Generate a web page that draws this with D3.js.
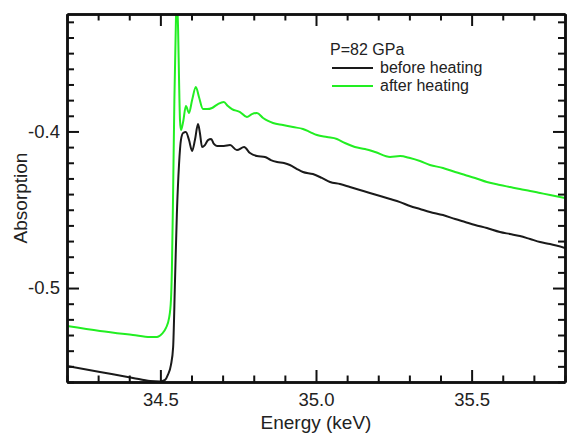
<!DOCTYPE html>
<html>
<head>
<meta charset="utf-8">
<script src="https://cdn.jsdelivr.net/npm/d3@7"></script>
<style>
  body { margin: 0; background: #fff; }
  svg { display: block; }
  text { font-family: "Liberation Sans", Arial, sans-serif; fill: #222; }
</style>
</head>
<body>
<svg id="chart"></svg>
<script>
// energy (keV) and absorption
var beforeE = [34.200, 34.306, 34.412, 34.467, 34.499, 34.515, 34.524, 34.534, 34.541, 34.547,
  34.553, 34.560, 34.566, 34.573, 34.582, 34.592, 34.602, 34.611, 34.621, 34.627,
  34.634, 34.643, 34.653, 34.663, 34.672, 34.682, 34.704, 34.724, 34.746, 34.769,
  34.788, 34.810, 34.836, 34.855, 34.875, 34.897, 34.916, 34.939, 34.958, 34.990,
  35.019, 35.045, 35.077, 35.109, 35.141, 35.173, 35.206, 35.238, 35.270, 35.302,
  35.334, 35.366, 35.408, 35.447, 35.479, 35.511, 35.549, 35.591, 35.623, 35.655,
  35.688, 35.720, 35.752, 35.800];
var beforeA = [-0.5498, -0.5536, -0.5574, -0.5594, -0.5597, -0.5587, -0.5555, -0.5491, -0.5377, -0.4955,
  -0.4527, -0.4208, -0.4055, -0.4010, -0.4004, -0.4055, -0.4125, -0.4055, -0.3953, -0.4010,
  -0.4100, -0.4087, -0.4055, -0.4048, -0.4080, -0.4093, -0.4093, -0.4087, -0.4119, -0.4100,
  -0.4138, -0.4157, -0.4163, -0.4183, -0.4195, -0.4202, -0.4214, -0.4240, -0.4259, -0.4272,
  -0.4297, -0.4323, -0.4336, -0.4355, -0.4374, -0.4393, -0.4412, -0.4431, -0.4451, -0.4476,
  -0.4495, -0.4514, -0.4534, -0.4559, -0.4578, -0.4597, -0.4617, -0.4642, -0.4655, -0.4668,
  -0.4687, -0.4706, -0.4719, -0.4744];

var afterE = [34.200, 34.306, 34.412, 34.467, 34.489, 34.505, 34.518, 34.528, 34.534, 34.537,
  34.541, 34.545, 34.550, 34.553, 34.557, 34.560, 34.563, 34.566, 34.573, 34.582,
  34.592, 34.602, 34.614, 34.624, 34.637, 34.650, 34.666, 34.685, 34.704, 34.717,
  34.730, 34.756, 34.778, 34.794, 34.810, 34.830, 34.846, 34.862, 34.894, 34.926,
  34.958, 34.981, 35.003, 35.035, 35.067, 35.093, 35.125, 35.157, 35.190, 35.238,
  35.270, 35.302, 35.334, 35.366, 35.408, 35.447, 35.479, 35.511, 35.549, 35.591,
  35.623, 35.655, 35.688, 35.720, 35.752, 35.800];
var afterA = [-0.5242, -0.5274, -0.5300, -0.5313, -0.5313, -0.5293, -0.5255, -0.5191, -0.5076, -0.4885,
  -0.4374, -0.3799, -0.3288, -0.3148, -0.3352, -0.3671, -0.3927, -0.3991, -0.3940, -0.3838,
  -0.3882, -0.3799, -0.3716, -0.3780, -0.3857, -0.3857, -0.3850, -0.3825, -0.3812, -0.3838,
  -0.3857, -0.3876, -0.3908, -0.3889, -0.3882, -0.3914, -0.3933, -0.3946, -0.3959, -0.3972,
  -0.3984, -0.4004, -0.4023, -0.4036, -0.4048, -0.4074, -0.4099, -0.4112, -0.4131, -0.4163,
  -0.4157, -0.4170, -0.4189, -0.4214, -0.4233, -0.4259, -0.4278, -0.4297, -0.4323, -0.4342,
  -0.4355, -0.4368, -0.4380, -0.4393, -0.4406, -0.4425];

var xMajor = [34.5, 35.0, 35.5];
var xMajorLabels = ["34.5", "35.0", "35.5"];
var yMajor = [-0.5, -0.4];
var yMajorLabels = ["-0.5", "-0.4"];

var width = 567, height = 436;
var margin = {top: 14, right: 2, bottom: 54, left: 67};
var iw = width - margin.left - margin.right,
    ih = height - margin.top - margin.bottom;

var svg = d3.select("#chart").attr("width", width).attr("height", height);
var g = svg.append("g").attr("transform", "translate(" + margin.left + "," + margin.top + ")");

var x = d3.scaleLinear().domain([34.2, 35.8]).range([0, iw]);
var y = d3.scaleLinear().domain([-0.56, -0.325]).range([ih, 0]);

var xMinor = d3.range(34.2, 35.81, 0.1).filter(function(d) {
  return xMajor.every(function(m) { return Math.abs(m - d) > 1e-6; });
});
var yMinor = d3.range(-0.56, -0.3249, 0.01).filter(function(d) {
  return yMajor.every(function(m) { return Math.abs(m - d) > 1e-6; });
});

svg.append("defs").append("clipPath").attr("id", "clip")
  .append("rect").attr("width", iw).attr("height", ih);

var line = d3.line()
  .x(function(d) { return x(d[0]); })
  .y(function(d) { return y(d[1]); })
  .curve(d3.curveMonotoneX);

var plot = g.append("g").attr("clip-path", "url(#clip)");
plot.append("path")
  .datum(d3.zip(beforeE, beforeA))
  .attr("fill", "none").attr("stroke", "#1a1a1a").attr("stroke-width", 2)
  .attr("d", line);
plot.append("path")
  .datum(d3.zip(afterE, afterA))
  .attr("fill", "none").attr("stroke", "#22ee22").attr("stroke-width", 2)
  .attr("d", line);

function drawAxis(axisFn, scale, values, size, transform, labels, pad) {
  var a = axisFn(scale).tickValues(values).tickSizeInner(-size).tickSizeOuter(0).tickPadding(pad || 3);
  if (labels) a.tickFormat(function(d, i) { return labels[i]; });
  else a.tickFormat("");
  var sel = g.append("g").attr("transform", transform).call(a);
  sel.selectAll("line").attr("stroke", "#111").attr("stroke-width", 2);
  sel.select(".domain").attr("stroke", "#111").attr("stroke-width", 2.5);
  sel.selectAll("text").style("font-size", "18.5px").attr("fill", "#222");
  return sel;
}

// bottom and top
drawAxis(d3.axisBottom, x, xMinor, 6.5, "translate(0," + ih + ")");
drawAxis(d3.axisBottom, x, xMajor, 12, "translate(0," + ih + ")", xMajorLabels, 11);
drawAxis(d3.axisTop, x, xMinor, 6.5, "translate(0,0)");
drawAxis(d3.axisTop, x, xMajor, 12, "translate(0,0)");
// left and right
drawAxis(d3.axisLeft, y, yMinor, 7, "translate(0,0)");
drawAxis(d3.axisLeft, y, yMajor, 12, "translate(0,0)", yMajorLabels, 7);
drawAxis(d3.axisRight, y, yMinor, 7, "translate(" + iw + ",0)");
drawAxis(d3.axisRight, y, yMajor, 12, "translate(" + iw + ",0)");

// axis titles
svg.append("text")
  .attr("x", margin.left + iw / 2).attr("y", 429)
  .attr("text-anchor", "middle").style("font-size", "19px")
  .text("Energy (keV)");
svg.append("text")
  .attr("transform", "translate(27," + (margin.top + ih / 2) + ") rotate(-90)")
  .attr("text-anchor", "middle").style("font-size", "19px")
  .text("Absorption");

// legend
var leg = svg.append("g").attr("transform", "translate(330,0)");
leg.append("text").attr("x", 0).attr("y", 55).style("font-size", "16px").text("P=82 GPa");
var legItems = [{label: "before heating", color: "#1a1a1a", y: 68},
                {label: "after heating", color: "#22ee22", y: 86}];
legItems.forEach(function(it) {
  leg.append("line").attr("x1", 2).attr("x2", 43).attr("y1", it.y).attr("y2", it.y)
    .attr("stroke", it.color).attr("stroke-width", 2);
  leg.append("text").attr("x", 50).attr("y", it.y + 5).style("font-size", "16px").text(it.label);
});
</script>
</body>
</html>
